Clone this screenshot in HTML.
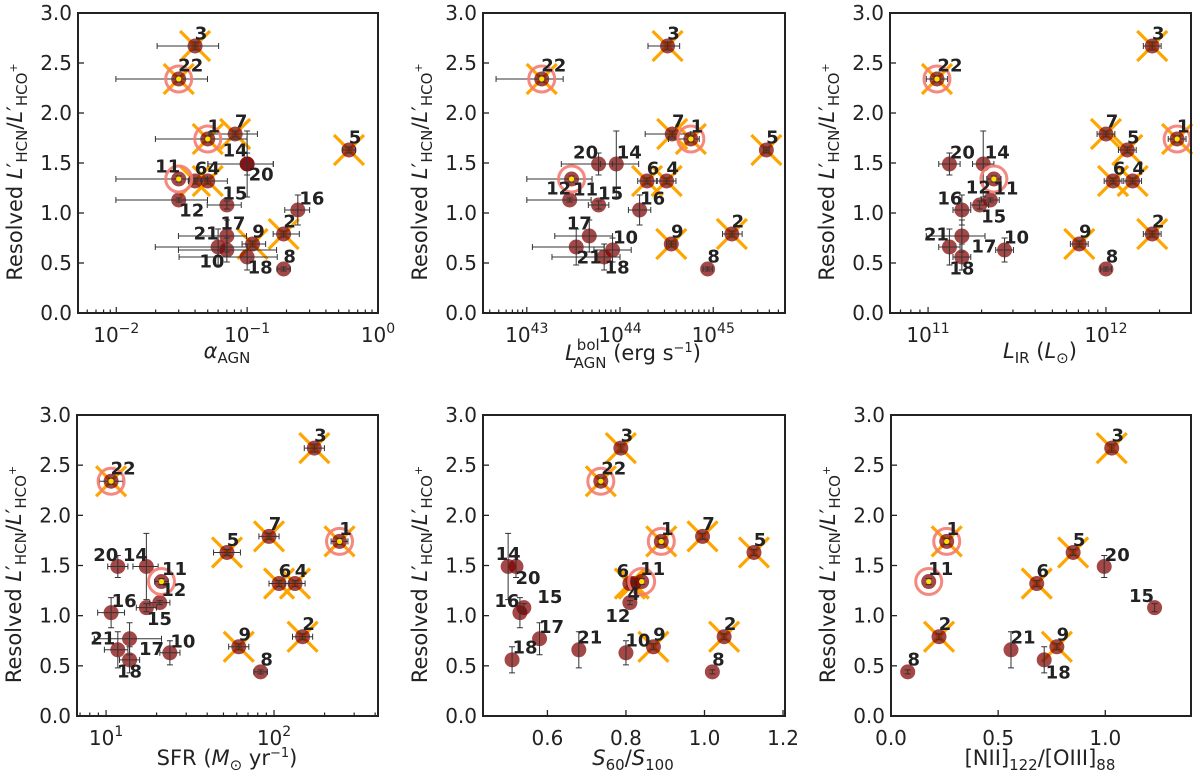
<!DOCTYPE html>
<html><head><meta charset="utf-8">
<style>
html,body{margin:0;padding:0;background:#fff;}
svg{display:block;font-family:"DejaVu Sans","Liberation Sans",sans-serif;}
</style></head>
<body>
<svg id="fig" width="1200" height="780" viewBox="0 0 1200 780" xmlns="http://www.w3.org/2000/svg"></svg>
<script>
// ---- data ----
const sourceIds = [1,2,3,4,5,6,7,8,9,10,11,12,14,15,16,17,18,20,21,22];
const ratioValues = [1.74,0.79,2.67,1.32,1.63,1.32,1.79,0.44,0.69,0.63,1.34,1.13,1.49,1.08,1.03,0.77,0.56,1.49,0.66,2.34];
const ratioErrors = [0.03,0.03,0.04,0.03,0.03,0.03,0.03,0.02,0.03,0.12,0.03,0.02,0.33,0.04,0.15,0.16,0.13,0.11,0.18,0.03];
const crossedIds = [1,2,3,4,5,6,7,9,22];
const ringedIds = [1,11,22];

const alphaAGN = [0.05,0.19,0.04,0.05,0.60,0.04,0.081,0.19,0.11,0.07,0.03,0.03,0.10,0.07,0.244,0.07,0.10,0.10,0.06,0.03];
const alphaErrLoDex = [.4,.08,.29,.05,.05,.05,.2,.05,.08,.37,.48,.48,.3,.15,.1,.37,.52,.3,.48,.48];
const alphaErrHiDex = [.3,.12,.18,.15,.05,.05,.17,.05,.1,.38,.22,.22,.2,.11,.09,.15,.23,.2,.22,.22];

const logLbolAGN = [44.76,45.20,44.51,44.50,45.57,44.29,44.56,44.94,44.55,43.92,43.48,43.46,43.96,43.77,44.21,43.67,43.83,43.77,43.53,43.16];
const lbolErrLo = [.24,.1,.21,.1,.03,.1,.29,.05,.05,.2,.48,.46,.17,.11,.12,.37,.56,.4,.47,.49];
const lbolErrHi = [.09,.11,.13,.1,.03,.1,.2,.05,.05,.2,.22,.23,.24,.11,.12,.25,.17,.15,.3,.23];

const logLIR = [12.40,12.26,12.26,12.15,12.12,12.04,12.0,12.0,11.85,11.43,11.37,11.35,11.31,11.29,11.19,11.19,11.19,11.12,11.12,11.05];
const lirErrLo = [.05,.05,.05,.05,.05,.05,.05,.03,.05,.05,.04,.05,.06,.05,.05,.2,.05,.06,.06,.06];
const lirErrHi = [.05,.05,.05,.05,.05,.05,.05,.03,.05,.05,.04,.05,.06,.05,.05,.13,.05,.06,.06,.06];

const logSFR = [2.39,2.17,2.24,2.125,1.72,2.03,1.97,1.92,1.79,1.38,1.33,1.32,1.24,1.24,1.03,1.14,1.14,1.07,1.07,1.03];
const sfrErrLo = [.05,.06,.06,.06,.08,.06,.06,.04,.06,.06,.04,.06,.08,.06,.08,.21,.06,.06,.08,.07];
const sfrErrHi = [.05,.06,.06,.06,.08,.06,.06,.04,.06,.06,.04,.06,.07,.06,.08,.19,.06,.06,.06,.07];

const s60s100 = [0.89,1.05,0.787,0.82,1.126,0.81,0.995,1.02,0.87,0.80,0.84,0.81,0.50,0.54,0.53,0.58,0.51,0.52,0.68,0.736];
const niiOiii = [0.26,0.224,1.03,null,0.85,0.68,null,0.078,0.774,null,0.176,null,null,1.23,null,null,0.715,0.995,0.56,null];

const yTicks = [0,0.5,1.0,1.5,2.0,2.5,3.0];
const yTickLabels = ["0.0","0.5","1.0","1.5","2.0","2.5","3.0"];

// ---- layout ----
const NS="http://www.w3.org/2000/svg";
const svg=document.getElementById('fig');
function mk(tag,attrs,parent){const e=document.createElementNS(NS,tag);for(const k in attrs)e.setAttribute(k,attrs[k]);(parent||svg).appendChild(e);return e;}

const panels=[
 {name:'alpha-agn',l:78,r:378,t:13,b:313,log:true,min:Math.log10(0.0051),max:0,vals:alphaAGN,valIsLog:false,lo:alphaErrLoDex,hi:alphaErrHiDex,majors:[-2,-1,0],
  lab:{22:[12,-14],14:[-12,-14],20:[14,10],11:[-11,-13],12:[13,10],16:[14,-12],21:[-12,-14],10:[-15,11],18:[13,10],15:[8,-12]},
  xl:[227,358,'<tspan font-style="italic">α</tspan><tspan font-size="15" dy="5">AGN</tspan>']},
 {name:'lbol-agn',l:483,r:785,t:13,b:313,log:true,min:42.53,max:45.77,vals:logLbolAGN,valIsLog:true,lo:lbolErrLo,hi:lbolErrHi,majors:[43,44,45],
  lab:{22:[12,-14],20:[-13,-12],14:[13,-12],11:[14,10],12:[-11,-12],15:[12,-12],16:[13,-12],17:[-10,-13],21:[13,10],10:[13,-13],18:[13,10]},
  xl:[633,360,'<tspan font-style="italic">L</tspan><tspan font-size="15" dy="-10">bol</tspan><tspan font-size="15" dx="-26" dy="18">AGN</tspan><tspan dy="-8"> (erg s</tspan><tspan font-size="13" dy="-8">−1</tspan><tspan dy="8">)</tspan>']},
 {name:'lir',l:890,r:1191,t:13,b:313,log:true,min:10.786,max:12.478,vals:logLIR,valIsLog:true,lo:lirErrLo,hi:lirErrHi,majors:[11,12],
  lab:{22:[13,-14],20:[13,-12],14:[14,-12],12:[-12,-13],11:[12,9],16:[-12,-12],15:[14,11],21:[-13,-13],17:[22,10],10:[12,-13],18:[0,11]},
  xl:[1040,358,'<tspan font-style="italic">L</tspan><tspan font-size="15" dy="5">IR</tspan><tspan dy="-5"> (</tspan><tspan font-style="italic">L</tspan><tspan font-size="15" dy="5">⊙</tspan><tspan dy="-5">)</tspan>']},
 {name:'sfr',l:77,r:378,t:415,b:716,log:true,min:0.827,max:2.619,vals:logSFR,valIsLog:true,lo:sfrErrLo,hi:sfrErrHi,majors:[1,2],
  lab:{22:[12,-13],20:[-12,-12],14:[-11,-12],11:[13,-13],12:[14,-13],15:[13,11],16:[13,-12],21:[-15,-12],17:[22,10],10:[13,-12],18:[0,11]},
  xl:[227,765,'SFR (<tspan font-style="italic">M</tspan><tspan font-size="15" dy="5">⊙</tspan><tspan dy="-5"> yr</tspan><tspan font-size="13" dy="-8">−1</tspan><tspan dy="8">)</tspan>']},
 {name:'s60-s100',l:483,r:785,t:415,b:716,log:false,min:0.436,max:1.205,vals:s60s100,lo:null,hi:null,majors:[0.6,0.8,1.0,1.2],
  lab:{22:[13,-13],14:[0,-13],20:[12,11],6:[-7,-13],11:[11,-13],4:[0,10],12:[-12,13],16:[-13,-12],15:[26,-11],17:[12,-12],18:[13,-13],21:[11,-13],10:[12,-13]},
  xl:[633,765,'<tspan font-style="italic">S</tspan><tspan font-size="15" dy="5">60</tspan><tspan dy="-5">/</tspan><tspan font-style="italic">S</tspan><tspan font-size="15" dy="5">100</tspan>']},
 {name:'nii-oiii',l:891,r:1191,t:415,b:716,log:false,min:0,max:1.40,vals:niiOiii,lo:null,hi:null,majors:[0,0.5,1.0],
  lab:{11:[12,-13],20:[13,-12],15:[-13,-12],21:[12,-13],18:[14,12]},
  xl:[1040,765,'[NII]<tspan font-size="15" dy="5">122</tspan><tspan dy="-5">/[OIII]</tspan><tspan font-size="15" dy="5">88</tspan>']}
];

panels.forEach((p,pi)=>{
  const g=mk('g',{});
  
  
  const X=v=>p.l+(v-p.min)/(p.max-p.min)*(p.r-p.l);
  const Y=v=>p.b-(v/3)*(p.b-p.t);
  yTicks.forEach((t,i)=>{
    mk('line',{x1:p.l,x2:p.l+6,y1:Y(t),y2:Y(t),stroke:'#222','stroke-width':1.3},g);
    const tx=mk('text',{x:p.l-6,y:Y(t)+7,'text-anchor':'end','font-size':20,fill:'#222'},g);
    tx.textContent=yTickLabels[i];
    
    
  });
  if(p.log){
    for(let d=Math.floor(p.min);d<=Math.ceil(p.max);d++){
      for(let m=1;m<10;m++){
        const lv=d+Math.log10(m);
        if(lv<p.min-1e-6||lv>p.max+1e-6)continue;
        const len=m===1?6:3.5;
        mk('line',{x1:X(lv),x2:X(lv),y1:p.b,y2:p.b-len,stroke:'#222','stroke-width':1.2},g);
      }
    }
    p.majors.forEach(d=>{
      const tx=mk('text',{x:X(d),y:p.b+29,'text-anchor':'middle','font-size':20,fill:'#222'},g);
      tx.innerHTML='10<tspan font-size="14" dy="-9">'+(d<0?'−'+(-d):d)+'</tspan>';
      
      
    });
  } else {
    p.majors.forEach(t=>{
      mk('line',{x1:X(t),x2:X(t),y1:p.b,y2:p.b-6,stroke:'#222','stroke-width':1.3},g);
      const tx=mk('text',{x:X(t),y:p.b+29,'text-anchor':'middle','font-size':20,fill:'#222'},g);
      tx.textContent=t.toFixed(1);
      
      
    });
  }
  const pts=[];
  sourceIds.forEach((id,i)=>{
    const v=p.vals[i]; if(v===null||v===undefined)return;
    const lv=p.log?(p.valIsLog?v:Math.log10(v)):v;
    pts.push({id,i,px:X(lv),py:Y(ratioValues[i]),lv});
  });
  pts.forEach(q=>{
    if(crossedIds.indexOf(q.id)<0)return;
    const c=mk('path',{d:`M${q.px-15},${q.py-15}L${q.px+15},${q.py+15}M${q.px-15},${q.py+15}L${q.px+15},${q.py-15}`,stroke:'#ffa500','stroke-width':3.2,fill:'none'},g);
    
    
  });
  pts.forEach(q=>{
    const c=mk('circle',{cx:q.px,cy:q.py,r:7.5,fill:'#800000','fill-opacity':0.72},g);
    
    
  });
  pts.forEach(q=>{
    const ye=ratioErrors[q.i];
    const y1=Y(ratioValues[q.i]-ye),y2=Y(ratioValues[q.i]+ye);
    const e=mk('path',{d:`M${q.px},${y1}L${q.px},${y2}M${q.px-3},${y1}L${q.px+3},${y1}M${q.px-3},${y2}L${q.px+3},${y2}`,stroke:'#333','stroke-width':1,fill:'none'},g);
    
    
    if(p.lo){
      const x1=X(q.lv-p.lo[q.i]),x2=X(q.lv+p.hi[q.i]);
      const e2=mk('path',{d:`M${x1},${q.py}L${x2},${q.py}M${x1},${q.py-3}L${x1},${q.py+3}M${x2},${q.py-3}L${x2},${q.py+3}`,stroke:'#333','stroke-width':1,fill:'none'},g);
      
      
    }
  });
  pts.forEach(q=>{
    if(ringedIds.indexOf(q.id)<0)return;
    const r=mk('circle',{cx:q.px,cy:q.py,r:13,fill:'none',stroke:'#f47c72','stroke-width':3,'stroke-opacity':0.9},g);
    
    
    const d=mk('circle',{cx:q.px,cy:q.py,r:2.6,fill:'#ffe000'},g);
    
    
  });
  pts.forEach(q=>{
    const off=p.lab[q.id]||[6,-13];
    const t=mk('text',{x:q.px+off[0],y:q.py+off[1]+6.5,'text-anchor':'middle','font-size':18,'font-weight':'bold',fill:'#222'},g);
    t.textContent=q.id;
    
    
  });
  const f=mk('rect',{x:p.l,y:p.t,width:p.r-p.l,height:p.b-p.t,fill:'none',stroke:'#222','stroke-width':2},g);
  
  
  const xl=mk('text',{x:p.xl[0],y:p.xl[1],'text-anchor':'middle','font-size':21,fill:'#222'},g);
  xl.innerHTML=p.xl[2];
  
  
  const cx=p.l-56, cy=(p.t+p.b)/2+9;
  const yl=mk('text',{x:0,y:0,transform:`translate(${cx},${cy}) rotate(-90)`,'text-anchor':'middle','font-size':21,fill:'#222'},g);
  yl.innerHTML='Resolved <tspan font-style="italic">L</tspan>′<tspan font-size="15" dy="5">HCN</tspan><tspan dy="-5">/</tspan><tspan font-style="italic">L</tspan>′<tspan font-size="15" dy="5">HCO</tspan><tspan font-size="11" dy="-10">+</tspan>';
  
  
});
</script>
</body></html>
